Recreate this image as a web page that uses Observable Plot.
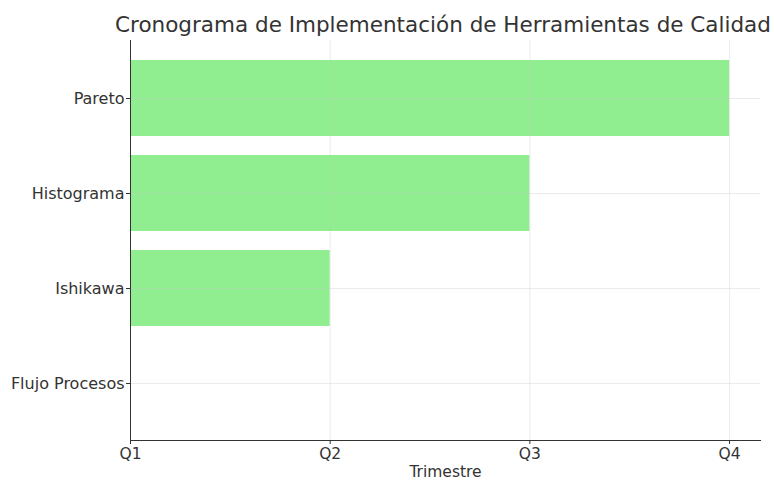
<!DOCTYPE html>
<html>
<head>
<meta charset="utf-8">
<script src="https://cdn.jsdelivr.net/npm/d3@7"></script>
<script src="https://cdn.jsdelivr.net/npm/@observablehq/plot@0.6"></script>
<style>
  html, body { margin: 0; padding: 0; background: #fff; }
  #wrap { width: 774px; font-family: "DejaVu Sans", sans-serif; }
  #title { height: 36px; font-size: 21.5px; color: #333; white-space: nowrap; position: relative; }
  #title span { position: absolute; left: 443px; transform: translateX(-50%); top: 12px; line-height: 26px; }
</style>
</head>
<body>
<div id="wrap">
  <div id="title"><span>Cronograma de Implementación de Herramientas de Calidad</span></div>
  <div id="chart"></div>
</div>
<script>
const tools = ["Pareto", "Histograma", "Ishikawa", "Flujo Procesos"];
const endQuarter = [3, 2, 1, 0];
const quarters = ["Q1", "Q2", "Q3", "Q4"];
const quarterPos = [0, 1, 2, 3];

const data = tools.map((t, i) => ({tool: t, end: endQuarter[i]}));

const chart = Plot.plot({
  width: 774,
  height: 446,
  marginLeft: 130,
  marginRight: 14,
  marginTop: 4,
  marginBottom: 42,
  style: {fontFamily: "DejaVu Sans, sans-serif", fontSize: "16px", color: "#333", background: "#fff"},
  x: {domain: [0, 3.155], label: null},
  y: {domain: tools, paddingInner: 0.2, paddingOuter: 0.19, label: null},
  marks: [
    Plot.barX(data, {y: "tool", x1: 0, x2: "end", fill: "#90ee90"}),
    Plot.gridX(quarterPos, {stroke: "#c8c8c8", strokeOpacity: 0.45, strokeWidth: 0.8}),
    Plot.gridY(tools, {stroke: "#c8c8c8", strokeOpacity: 0.45, strokeWidth: 0.8}),
    Plot.axisX(quarterPos, {tickFormat: d => quarters[d], tickSize: 4, tickPadding: 3, stroke: "#333",
      fontSize: 15.5, label: "Trimestre", labelAnchor: "center", labelArrow: "none", labelOffset: 36}),
    Plot.axisY({tickSize: 4, tickPadding: 2, stroke: "#333", label: null}),
    Plot.ruleX([0], {stroke: "#333", strokeWidth: 1}),
    Plot.frame({anchor: "bottom", stroke: "#333", strokeWidth: 1})
  ]
});
document.getElementById("chart").appendChild(chart);
</script>
</body>
</html>
